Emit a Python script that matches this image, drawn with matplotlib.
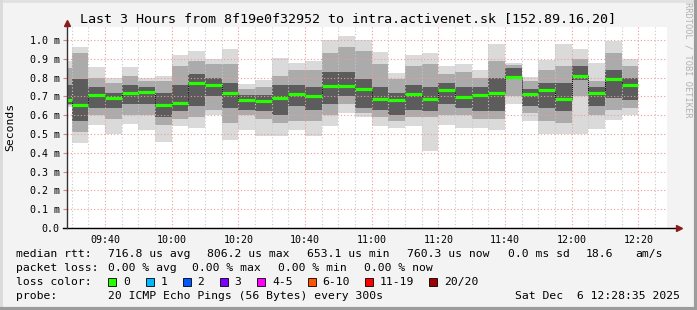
import matplotlib
matplotlib.use("Agg")
import matplotlib.pyplot as plt
import matplotlib.dates as mdates
from matplotlib.lines import Line2D
from matplotlib.patches import Rectangle
from matplotlib.ticker import FuncFormatter, MultipleLocator
import numpy as np
import pandas as pd

plt.rcParams["font.family"] = "DejaVu Sans Mono"

# 5 minute slots (start of each slot), values in ms
slot_start = pd.date_range("2025-12-06 09:25", periods=35, freq="5min")

rtt_max = [0.89, 0.965, 0.855, 0.80, 0.858, 0.80, 0.81, 0.92, 0.94, 0.90,
           0.95, 0.766, 0.787, 0.905, 0.88, 0.888, 1.00, 1.02, 1.00, 0.934,
           0.823, 0.92, 0.933, 0.864, 0.873, 0.84, 0.977, 0.875, 0.805, 0.894,
           0.977, 0.952, 0.879, 0.996, 0.90]
rtt_p90 = [0.85, 0.93, 0.80, 0.77, 0.81, 0.78, 0.78, 0.86, 0.89, 0.87,
           0.87, 0.74, 0.75, 0.81, 0.84, 0.84, 0.93, 0.96, 0.94, 0.87,
           0.79, 0.86, 0.87, 0.82, 0.83, 0.80, 0.89, 0.865, 0.78, 0.84,
           0.86, 0.90, 0.78, 0.93, 0.86]
rtt_p75 = [0.76, 0.79, 0.75, 0.72, 0.76, 0.75, 0.72, 0.76, 0.82, 0.80,
           0.77, 0.71, 0.71, 0.76, 0.76, 0.75, 0.83, 0.83, 0.79, 0.75,
           0.72, 0.76, 0.75, 0.77, 0.75, 0.75, 0.80, 0.85, 0.74, 0.77,
           0.77, 0.86, 0.75, 0.84, 0.80]
rtt_median = [0.680, 0.654, 0.707, 0.690, 0.720, 0.722, 0.654, 0.667, 0.773, 0.759,
              0.716, 0.683, 0.676, 0.693, 0.711, 0.702, 0.755, 0.753, 0.737, 0.686,
              0.681, 0.711, 0.686, 0.732, 0.695, 0.707, 0.720, 0.803, 0.712, 0.732,
              0.688, 0.807, 0.720, 0.792, 0.761]
rtt_p25 = [0.66, 0.57, 0.64, 0.64, 0.66, 0.66, 0.59, 0.62, 0.65, 0.70,
           0.64, 0.63, 0.62, 0.60, 0.65, 0.63, 0.66, 0.70, 0.64, 0.63,
           0.60, 0.63, 0.62, 0.66, 0.64, 0.62, 0.62, 0.79, 0.65, 0.64,
           0.62, 0.785, 0.65, 0.69, 0.68]
rtt_p10 = [0.655, 0.51, 0.60, 0.58, 0.60, 0.60, 0.55, 0.58, 0.59, 0.63,
           0.56, 0.60, 0.58, 0.56, 0.57, 0.57, 0.60, 0.66, 0.61, 0.59,
           0.57, 0.59, 0.59, 0.60, 0.60, 0.58, 0.58, 0.70, 0.61, 0.57,
           0.56, 0.70, 0.60, 0.63, 0.64]
rtt_min = [0.645, 0.45, 0.55, 0.50, 0.553, 0.52, 0.46, 0.54, 0.53, 0.60,
           0.47, 0.52, 0.49, 0.49, 0.52, 0.49, 0.54, 0.61, 0.59, 0.54,
           0.53, 0.54, 0.41, 0.55, 0.53, 0.53, 0.52, 0.66, 0.57, 0.50,
           0.50, 0.50, 0.527, 0.574, 0.60]

loss_labels = ["0", "1", "2", "3", "4-5", "6-10", "11-19", "20/20"]
loss_colors = ["#26ff00", "#00b8ff", "#0059ff", "#7e00ff", "#ff00ff",
               "#ff5500", "#ff0000", "#a00000"]

W, H = 697, 310
fig = plt.figure(figsize=(W / 100, H / 100), dpi=100, facecolor="#f3f3f3")


def px(x, y):
    return x / W, 1 - y / H


ax = fig.add_axes([67 / W, 82 / H, 600 / W, 201 / H], facecolor="white")

step = pd.Timedelta(minutes=5)
x0 = mdates.date2num(slot_start)
x1 = mdates.date2num(slot_start + step)
width = x1 - x0

hi = np.array(rtt_max); lo = np.array(rtt_min)
h90 = np.array(rtt_p90); l10 = np.array(rtt_p10)
h75 = np.array(rtt_p75); l25 = np.array(rtt_p25)
med = np.array(rtt_median)

# smoke: light outside, darker towards the median
ax.bar(x0, hi - lo, bottom=lo, width=width, align="edge", color="#dadada", lw=0, zorder=1)
ax.bar(x0, h90 - l10, bottom=l10, width=width, align="edge", color="#ababab", lw=0, zorder=1.1)
ax.bar(x0, h75 - l25, bottom=l25, width=width, align="edge", color="#5c5c5c", lw=0, zorder=1.2)

# median
ax.step(np.append(x0, x1[-1]), np.append(med, med[-1]), where="post",
        color="black", lw=0.7, ls=(0, (1, 1)), zorder=3)
ax.hlines(med, x0, x1, color=loss_colors[0], lw=2.3, zorder=4)

t_end = pd.Timestamp("2025-12-06 12:28:35")
ax.set_xlim(mdates.date2num(t_end - pd.Timedelta(hours=3)), mdates.date2num(t_end))
ax.set_ylim(0, 1.069)

ax.xaxis.set_major_locator(mdates.MinuteLocator(byminute=[0, 20, 40]))
ax.xaxis.set_minor_locator(mdates.MinuteLocator(byminute=range(0, 60, 5)))
ax.xaxis.set_major_formatter(mdates.DateFormatter("%H:%M"))
ax.yaxis.set_major_locator(MultipleLocator(0.1))
ax.yaxis.set_major_formatter(FuncFormatter(lambda v, p: "0.0" if abs(v) < 1e-9 else f"{v:.1f} m"))

ax.set_axisbelow(False)
ax.grid(which="minor", axis="x", color="#c8c8c8", lw=0.8, ls=(0, (1, 2)))
ax.grid(which="major", axis="both", color="#f09a9a", lw=0.8, ls=(0, (1, 2)))

for s in ax.spines.values():
    s.set_visible(False)
ax.tick_params(axis="y", which="major", length=3, color="#e08080", pad=2.3, labelsize=7.2)
ax.tick_params(axis="x", which="both", length=0, pad=5, labelsize=7.2)

# axes with arrows
ax.plot([-0.006, 1.018], [0, 0], transform=ax.transAxes, color="black", lw=1, clip_on=False, zorder=5)
ax.plot([0, 0], [0, 1.01], transform=ax.transAxes, color="#333333", lw=1, clip_on=False, zorder=5)
ax.plot([1.02], [0], transform=ax.transAxes, marker=">", color="#8b1a1a", ms=5, clip_on=False, zorder=6)
ax.plot([0], [1.02], transform=ax.transAxes, marker="^", color="#8b1a1a", ms=5, clip_on=False, zorder=6)

# texts
fig.text(*px(348, 19), "Last 3 Hours from 8f19e0f32952 to intra.activenet.sk [152.89.16.20]",
         ha="center", va="center", fontsize=9.6)
fig.text(*px(10, 127), "Seconds", rotation=90, ha="center", va="center", fontsize=8.2)
fig.text(*px(688, 60), "RRDTOOL / TOBI OETIKER", rotation=270, ha="center", va="center",
         fontsize=6.2, color="#b0b0b0")

fs = 8.2
rows = {
    254: [(16, "median rtt:"), (107.5, "716.8 us avg"), (207, "806.2 us max"),
          (307, "653.1 us min"), (407, "760.3 us now"), (507.5, "0.0 ms sd"),
          (585.5, "18.6"), (635, "am/s")],
    268: [(16, "packet loss:"), (107.5, "0.00 % avg"), (192.5, "0.00 % max"),
          (278.5, "0.00 % min"), (364.5, "0.00 % now")],
    296: [(16, "probe:"), (107.5, "20 ICMP Echo Pings (56 Bytes) every 300s")],
}
for y, items in rows.items():
    for x, s in items:
        fig.text(*px(x, y), s, ha="left", va="center", fontsize=fs)
fig.text(*px(680, 296), "Sat Dec  6 12:28:35 2025", ha="right", va="center", fontsize=fs)

fig.text(*px(16, 282), "loss color:", ha="left", va="center", fontsize=fs)
box_x = [108, 145.5, 182.5, 219.5, 257, 307.5, 365, 429]
for bx, lab, col in zip(box_x, loss_labels, loss_colors):
    fig.patches.append(Rectangle(px(bx, 286), 8 / W, 8 / H, transform=fig.transFigure,
                                 facecolor=col, edgecolor="black", lw=0.6))
    fig.text(*px(bx + 15, 282), lab, ha="left", va="center", fontsize=fs)

# frame
fig.add_artist(Line2D([0, 1], [1 - 1 / H, 1 - 1 / H], transform=fig.transFigure, color="#e0e0e0", lw=2))
fig.add_artist(Line2D([1 / W, 1 / W], [0, 1], transform=fig.transFigure, color="#dadada", lw=2))
fig.add_artist(Line2D([0, 1], [1.5 / H, 1.5 / H], transform=fig.transFigure, color="#9c9c9c", lw=3))
fig.add_artist(Line2D([1 - 1.5 / W, 1 - 1.5 / W], [0, 1], transform=fig.transFigure, color="#9c9c9c", lw=3))

fig.savefig("out.png", dpi=100, facecolor=fig.get_facecolor())
